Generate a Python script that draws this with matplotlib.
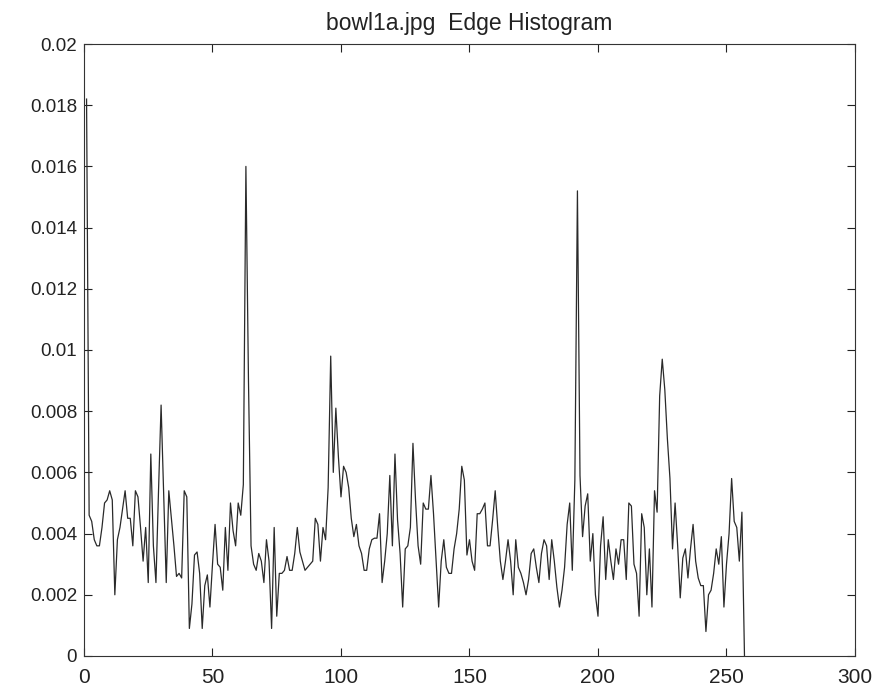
import matplotlib
matplotlib.use("Agg")
import matplotlib.pyplot as plt
import numpy as np

# edge histogram values (units of 1e-3), bins 1..257
hist_milli = [
    18.2, 4.6, 4.4, 3.8, 3.6, 3.6, 4.2, 5.0, 5.1, 5.4,
    5.1, 2.0, 3.8, 4.2, 4.8, 5.4, 4.5, 4.5, 3.6, 5.4,
    5.2, 4.2, 3.1, 4.2, 2.4, 6.6, 3.6, 2.4, 5.4, 8.2,
    5.3, 2.4, 5.4, 4.5, 3.6, 2.6, 2.7, 2.55, 5.4, 5.2,
    0.9, 1.7, 3.3, 3.4, 2.7, 0.9, 2.3, 2.65, 1.6, 3.0,
    4.3, 3.0, 2.9, 2.15, 4.2, 2.8, 5.0, 4.1, 3.6, 5.0,
    4.6, 5.6, 16.0, 9.0, 3.6, 3.0, 2.8, 3.35, 3.1, 2.4,
    3.8, 3.1, 0.9, 4.2, 1.3, 2.7, 2.7, 2.8, 3.25, 2.8,
    2.8, 3.35, 4.2, 3.4, 3.1, 2.8, 2.9, 3.0, 3.1, 4.5,
    4.3, 3.1, 4.2, 3.8, 5.5, 9.8, 6.0, 8.1, 6.5, 5.2,
    6.2, 6.0, 5.5, 4.5, 3.9, 4.3, 3.6, 3.35, 2.8, 2.8,
    3.5, 3.8, 3.85, 3.85, 4.65, 2.4, 3.1, 4.0, 5.9, 3.6,
    6.6, 4.45, 3.35, 1.6, 3.5, 3.6, 4.2, 6.95, 5.1, 3.6,
    3.0, 5.0, 4.8, 4.8, 5.9, 4.65, 3.1, 1.6, 3.1, 3.8,
    2.9, 2.7, 2.7, 3.5, 4.0, 4.8, 6.2, 5.75, 3.3, 3.8,
    3.1, 2.8, 4.65, 4.65, 4.8, 5.0, 3.6, 3.6, 4.45, 5.4,
    4.2, 3.1, 2.5, 3.1, 3.8, 3.1, 2.0, 3.8, 2.9, 2.7,
    2.4, 2.0, 2.5, 3.35, 3.5, 2.9, 2.4, 3.35, 3.8, 3.6,
    2.5, 3.8, 3.1, 2.25, 1.6, 2.15, 2.9, 4.3, 5.0, 2.8,
    5.75, 15.2, 5.9, 3.9, 4.9, 5.3, 3.1, 4.0, 2.0, 1.3,
    3.6, 4.55, 2.5, 3.8, 3.1, 2.5, 3.5, 3.0, 3.8, 3.8,
    2.5, 5.0, 4.9, 3.0, 2.7, 1.3, 4.65, 4.2, 2.0, 3.5,
    1.6, 5.4, 4.7, 8.5, 9.7, 8.7, 7.1, 5.8, 3.5, 5.0,
    3.6, 1.9, 3.2, 3.5, 2.55, 3.5, 4.3, 3.1, 2.55, 2.3,
    2.3, 0.8, 2.0, 2.15, 2.7, 3.5, 3.0, 3.9, 1.6, 3.0,
    4.0, 5.8, 4.4, 4.2, 3.1, 4.7, 0.0,
]

x_ticks = [0, 50, 100, 150, 200, 250, 300]
y_ticks = [0, 0.002, 0.004, 0.006, 0.008, 0.01, 0.012, 0.014, 0.016, 0.018, 0.02]
title_text = "bowl1a.jpg  Edge Histogram"

plt.rcParams['font.family'] = ['Liberation Sans Narrow', 'Liberation Sans', 'DejaVu Sans']

hist = np.array(hist_milli) / 1000.0
bins = np.arange(1, len(hist) + 1)

fig = plt.figure(figsize=(8.86, 6.93), dpi=100)
ax = fig.add_axes([0.0948, 0.0534, 0.8702, 0.8831])
ax.plot(bins, hist, color='#2a2a2a', lw=0.9)

ax.set_xlim(0, 300)
ax.set_ylim(0, 0.02)
ax.set_xticks(x_ticks)
ax.set_yticks(y_ticks)
ax.set_xticklabels([str(t) for t in x_ticks])
ax.set_yticklabels(['%g' % t for t in y_ticks])
ax.tick_params(direction='in', length=6, width=0.8, top=True, right=True,
               labelsize=14, colors='#222222')
ax.tick_params(axis='x', labelsize=15, pad=9)
ax.tick_params(axis='y', labelsize=13.5, pad=5)
for s in ax.spines.values():
    s.set_linewidth(0.8)
    s.set_color('#333333')

ax.set_title(title_text, fontsize=16.5, color='#222222', pad=10)

fig.savefig("out.png", dpi=100)
